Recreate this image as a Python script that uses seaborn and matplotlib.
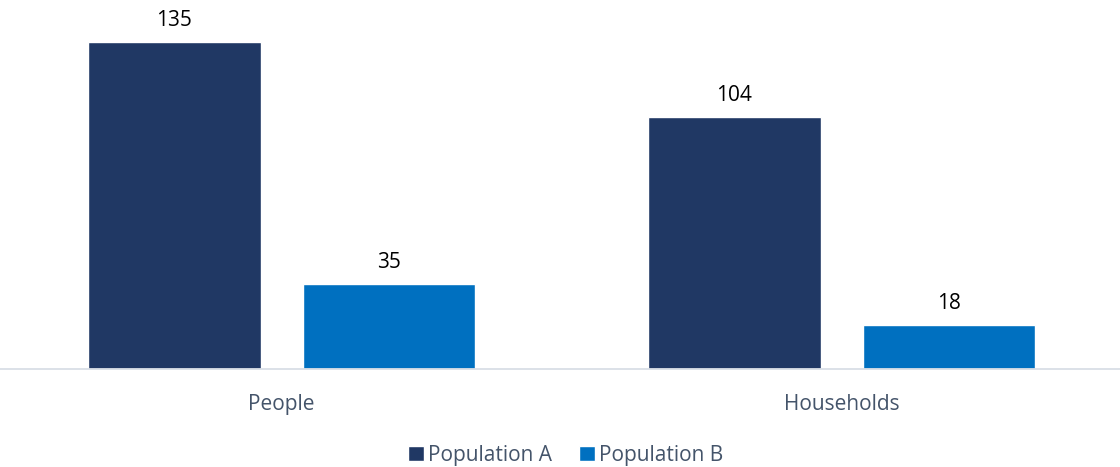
import pandas as pd
import seaborn as sns
import matplotlib.pyplot as plt

# chart data
categories = ['People', 'Households']
series = ['Population A', 'Population B']
pop_a = [135, 104]
pop_b = [35, 18]

colors = ['#203864', '#0070C0']
text_grey = '#44546A'

df = pd.DataFrame({
    'category': categories * 2,
    'series': [series[0]] * len(categories) + [series[1]] * len(categories),
    'value': pop_a + pop_b,
})

sns.set_theme(style='white')
plt.rcParams['font.family'] = ['Open Sans', 'DejaVu Sans']

fig = plt.figure(figsize=(11.2, 4.67), dpi=100)
ax = fig.add_axes([0.0, 0.21, 1.0, 0.79])

sns.barplot(data=df, x='category', y='value', hue='series', order=categories,
            hue_order=series, palette=colors, width=0.766, gap=0.197,
            saturation=1, ax=ax, legend=True)

# value labels
for cont in ax.containers:
    ax.bar_label(cont, fmt='%d', padding=8, fontsize=15, color='black')

ax.set_xlim(-0.503, 1.497)
ax.set_ylim(0, 152.3)
ax.set_xlabel('')
ax.set_ylabel('')
ax.set_yticks([])
ax.tick_params(axis='x', length=0, labelsize=15, labelcolor=text_grey, pad=18)
for s in ['top', 'left', 'right']:
    ax.spines[s].set_visible(False)
ax.spines['bottom'].set_color('#D9DEE6')
ax.spines['bottom'].set_linewidth(1.3)

handles, labels = ax.get_legend_handles_labels()
ax.legend(handles, labels, loc='center', bbox_to_anchor=(0.505, 0.025),
          bbox_transform=fig.transFigure, ncol=2, frameon=False,
          fontsize=15, labelcolor=text_grey, handlelength=0.75,
          handleheight=0.75, handletextpad=0.2, columnspacing=1.3)

fig.savefig('out.png', dpi=100)
